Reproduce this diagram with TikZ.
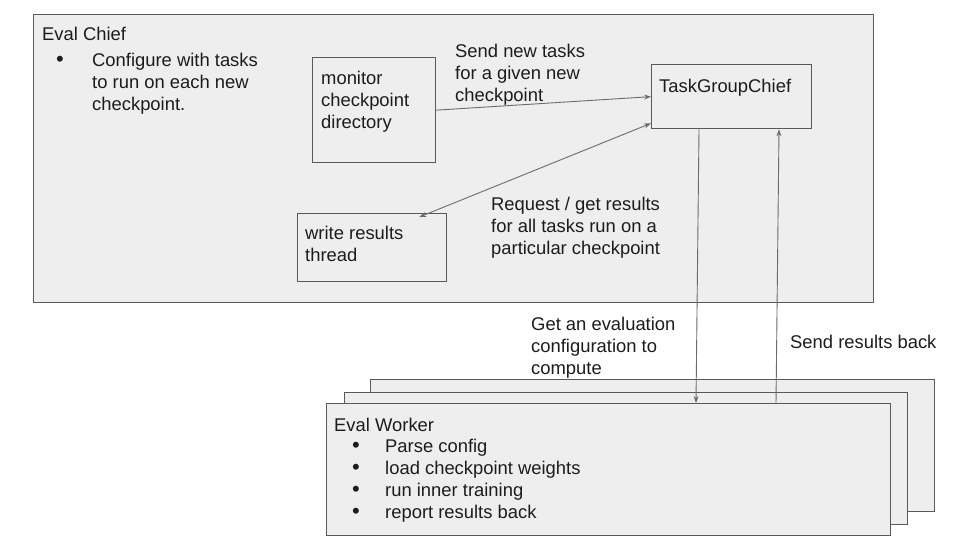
\documentclass[tikz,border=0pt]{standalone}
\usepackage{fontspec}
\setmainfont{Liberation Sans}
\usetikzlibrary{arrows.meta,positioning}

\definecolor{boxfill}{HTML}{EEEEEE}
\definecolor{boxline}{HTML}{595959}
\definecolor{arrowline}{HTML}{6B6B6B}
\definecolor{ink}{HTML}{1C1C1C}

\begin{document}
\begin{tikzpicture}[x=1pt,y=-1pt,
  every node/.style={font=\fontsize{18.4}{22}\selectfont, text=ink},
  panel/.style={draw=boxline, line width=1.3pt, fill=boxfill, inner sep=0pt, anchor=north west},
  txt/.style={anchor=base west, align=left, inner sep=0pt},
  dot/.style={anchor=base, inner sep=0pt, font=\fontsize{22}{22}\selectfont},
  link/.style={draw=arrowline, line width=0.9pt, -{Stealth[length=7pt,width=5pt]}}]

% Cadre de l'image (base = derniere ligne du texte)
\useasboundingbox[fill=white] (0,0) rectangle (960,540);

% Eval Chief
\node[panel, minimum width=840, minimum height=288] (chief) at (33,14) {};
\node[txt] (chieftitle) at (42,41) {Eval Chief};
\node[dot] (chiefdot) at (60,67) {•};
\node[txt] (chiefnote) at (92,111) {Configure with tasks\\to run on each new\\checkpoint.};

% Boites internes
\node[panel, minimum width=123, minimum height=105] (monitor) at (312,57) {};
\node[txt] (monitortxt) at (321,129) {monitor\\checkpoint\\directory};

\node[panel, minimum width=160, minimum height=64] (tgc) at (651,64) {};
\node[txt] (tgctxt) at (659,93) {TaskGroupChief};

\node[panel, minimum width=149, minimum height=68] (writer) at (297,213) {};
\node[txt] (writertxt) at (305,261) {write results\\thread};

% Eval Workers (pile)
\node[panel, minimum width=564, minimum height=132] (workerC) at (370,379) {};
\node[panel, minimum width=563, minimum height=132] (workerB) at (344,392) {};
\node[panel, minimum width=564, minimum height=132] (worker) at (326,403) {};
\node[txt] (workertitle) at (334,431) {Eval Worker};
\foreach \i/\item in {0/Parse config,1/load checkpoint weights,2/run inner training,3/report results back}{
  \node[dot] (workerdot\i) at (356,452+22*\i) {•};
  \node[txt] (workeritem\i) at (385,452+22*\i) {\item};
}

% Fleches
\draw[link] (monitor.east) -- (tgc.west);
\draw[link, {Stealth[length=7pt,width=5pt]}-{Stealth[length=7pt,width=5pt]}]
  ([xshift=-28pt,yshift=-4pt]writer.north east) -- ([yshift=6pt]tgc.south west);
\draw[link] ([xshift=48pt]tgc.south west) -- ([xshift=370pt]worker.north west);
\draw[link] ([xshift=450pt]worker.north west) -- ([xshift=128pt]tgc.south west);

% Legendes des fleches
\node[txt] (sendtasks) at (455,102) {Send new tasks\\for a given new\\checkpoint};
\node[txt] (request) at (491,254) {Request / get results\\for all tasks run on a\\particular checkpoint};
\node[txt] (getconfig) at (531,374) {Get an evaluation\\configuration to\\compute};
\node[txt] (sendback) at (790,348) {Send results back};

\end{tikzpicture}
\end{document}
